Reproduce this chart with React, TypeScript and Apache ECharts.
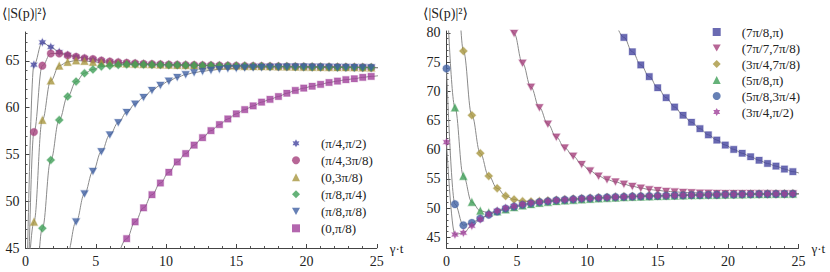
import React, { useEffect, useRef } from "react";
import * as echarts from "echarts";

// sampling times of the markers (γ·t)
const T = [0, 0.6, 1.2, 1.8, 2.4, 3.0, 3.6, 4.2, 4.8, 5.4, 6.0, 6.6, 7.2, 7.8, 8.4, 9.0, 9.6, 10.2, 10.8, 11.4, 12.0, 12.6, 13.2, 13.8, 14.4, 15.0, 15.6, 16.2, 16.8, 17.4, 18.0, 18.6, 19.2, 19.8, 20.4, 21.0, 21.6, 22.2, 22.8, 23.4, 24.0, 24.6, 25.2];

// ---- left panel ----
const L_NAMES = ["(π/4,π/2)", "(π/4,3π/8)", "(0,3π/8)", "(π/8,π/4)", "(π/8,π/8)", "(0,π/8)"];
const L_A = [33, 64.6, 67.0, 66.5, 65.95, 65.65, 65.45, 65.3, 65.15, 65.02, 64.92, 64.85, 64.8, 64.75, 64.7, 64.66, 64.63, 64.6, 64.58, 64.56, 64.54, 64.52, 64.51, 64.5, 64.48, 64.47, 64.46, 64.44, 64.43, 64.42, 64.41, 64.4, 64.39, 64.38, 64.37, 64.36, 64.35, 64.34, 64.33, 64.32, 64.31, 64.3, 64.29];
const L_B = [25, 57.4, 64.5, 65.8, 65.8, 65.6, 65.45, 65.3, 65.2, 65.05, 64.95, 64.87, 64.8, 64.75, 64.7, 64.67, 64.64, 64.62, 64.6, 64.58, 64.56, 64.55, 64.53, 64.52, 64.5, 64.49, 64.47, 64.46, 64.45, 64.43, 64.42, 64.41, 64.4, 64.39, 64.38, 64.37, 64.36, 64.35, 64.34, 64.33, 64.32, 64.31, 64.3];
const L_C = [36, 47.8, 58.7, 62.9, 64.5, 64.9, 65.05, 65.0, 64.9, 64.85, 64.8, 64.75, 64.72, 64.7, 64.67, 64.64, 64.62, 64.6, 64.58, 64.56, 64.55, 64.53, 64.52, 64.5, 64.49, 64.48, 64.46, 64.45, 64.44, 64.43, 64.42, 64.4, 64.39, 64.38, 64.37, 64.36, 64.35, 64.34, 64.33, 64.32, 64.31, 64.3, 64.29];
const L_D = [22, 38, 47.1, 54.4, 58.7, 61.2, 62.8, 63.7, 64.1, 64.4, 64.5, 64.58, 64.62, 64.63, 64.62, 64.61, 64.6, 64.58, 64.57, 64.55, 64.54, 64.52, 64.51, 64.5, 64.48, 64.47, 64.46, 64.45, 64.43, 64.42, 64.41, 64.4, 64.39, 64.38, 64.37, 64.36, 64.35, 64.34, 64.33, 64.32, 64.31, 64.3, 64.29];
const L_E = [null, null, null, null, 40.5, 44.5, 47.8, 50.8, 53.2, 55.3, 57.1, 58.4, 59.5, 60.4, 61.1, 61.85, 62.4, 62.85, 63.25, 63.55, 63.75, 63.9, 64.0, 64.1, 64.17, 64.22, 64.27, 64.3, 64.32, 64.34, 64.35, 64.36, 64.36, 64.36, 64.35, 64.35, 64.34, 64.33, 64.32, 64.31, 64.3, 64.29, 64.28];
const L_F = [null, null, null, null, null, null, null, null, null, null, null, 44.2, 46.0, 47.8, 49.3, 50.7, 51.95, 53.1, 54.2, 55.1, 56.0, 56.8, 57.55, 58.2, 58.8, 59.35, 59.8, 60.2, 60.6, 60.9, 61.2, 61.55, 61.85, 62.1, 62.3, 62.5, 62.7, 62.85, 63.0, 63.1, 63.25, 63.35, 63.45];
const L_Y_TICKS = [45, 50, 55, 60, 65];
const L_Y_MINOR = [46, 47, 48, 49, 51, 52, 53, 54, 56, 57, 58, 59, 61, 62, 63, 64, 66, 67, 68];

// ---- right panel ----
const R_NAMES = ["(7π/8,π)", "(7π/7,7π/8)", "(3π/4,7π/8)", "(5π/8,π)", "(5π/8,3π/4)", "(3π/4,π/2)"];
const R_A = [null, null, null, null, null, null, null, null, null, null, null, null, null, null, null, null, null, null, null, null, 81.8, 79.2, 76.75, 74.5, 72.5, 70.6, 68.9, 67.3, 65.9, 64.7, 63.6, 62.55, 61.65, 60.8, 60.05, 59.4, 58.8, 58.2, 57.65, 57.2, 56.7, 56.25, 55.85];
const R_B = [null, null, null, null, null, null, null, 85.5, 79.9, 74.8, 70.7, 67.2, 64.4, 62.15, 60.3, 58.9, 57.5, 56.4, 55.5, 54.9, 54.5, 54.1, 53.75, 53.45, 53.2, 53.05, 52.9, 52.8, 52.72, 52.65, 52.6, 52.57, 52.55, 52.54, 52.53, 52.52, 52.52, 52.51, 52.51, 52.5, 52.5, 52.5, 52.5];
const R_C = [null, 105, 76.9, 65.9, 59.4, 55.5, 53.4, 52.1, 51.5, 51.2, 51.15, 51.2, 51.3, 51.4, 51.5, 51.6, 51.68, 51.75, 51.82, 51.88, 51.94, 52.0, 52.04, 52.08, 52.12, 52.15, 52.18, 52.2, 52.23, 52.26, 52.28, 52.3, 52.32, 52.34, 52.36, 52.38, 52.4, 52.42, 52.43, 52.45, 52.46, 52.48, 52.5];
const R_D = [88, 67.2, 55.5, 51.05, 49.55, 49.25, 49.45, 49.8, 50.15, 50.45, 50.7, 50.9, 51.05, 51.2, 51.3, 51.4, 51.5, 51.58, 51.66, 51.73, 51.8, 51.86, 51.92, 51.97, 52.02, 52.06, 52.1, 52.14, 52.17, 52.2, 52.23, 52.26, 52.28, 52.3, 52.33, 52.35, 52.37, 52.39, 52.41, 52.43, 52.45, 52.46, 52.48];
const R_E = [73.9, 50.7, 47.1, 47.5, 48.25, 48.9, 49.45, 49.95, 50.3, 50.6, 50.85, 51.05, 51.2, 51.35, 51.45, 51.55, 51.65, 51.72, 51.8, 51.86, 51.92, 51.97, 52.02, 52.06, 52.1, 52.14, 52.17, 52.2, 52.23, 52.26, 52.28, 52.3, 52.32, 52.34, 52.36, 52.38, 52.4, 52.42, 52.44, 52.45, 52.47, 52.48, 52.5];
const R_F = [61.3, 45.5, 45.8, 47.0, 48.1, 48.95, 49.55, 50.05, 50.35, 50.65, 50.9, 51.05, 51.2, 51.35, 51.45, 51.55, 51.63, 51.7, 51.78, 51.84, 51.9, 51.95, 52.0, 52.04, 52.08, 52.12, 52.15, 52.18, 52.21, 52.24, 52.26, 52.28, 52.3, 52.32, 52.34, 52.36, 52.38, 52.4, 52.42, 52.43, 52.45, 52.46, 52.48];
const R_Y_TICKS = [45, 50, 55, 60, 65, 70, 75, 80];
const R_Y_MINOR = [44, 46, 47, 48, 49, 51, 52, 53, 54, 56, 57, 58, 59, 61, 62, 63, 64, 66, 67, 68, 69, 71, 72, 73, 74, 76, 77, 78, 79];

// ---- styles ----
const FONT = "'Liberation Serif', 'Times New Roman', 'DejaVu Serif', serif";
const STAR = "path://M100,0 L128,52 L186.6,50 L156,100 L186.6,150 L128,148 L100,200 L72,148 L13.4,150 L44,100 L13.4,50 L72,52 Z";
const TRI_DOWN = "path://M0,0 L100,0 L50,90 Z";
const C_DARKBLUE = "#45459f";
const C_MAGENTA = "#a5407c";
const C_OLIVE = "#a8963f";
const C_GREEN = "#3f9f58";
const C_BLUE = "#4060a3";
const C_PURPLE = "#a0409a";

const L_SYMBOLS = [STAR, "circle", "triangle", "diamond", TRI_DOWN, "rect"];
const L_SIZES = [7.5, 7.5, 7.5, 8, 7.5, 6.5];
const L_COLORS = [C_DARKBLUE, C_MAGENTA, C_OLIVE, C_GREEN, C_BLUE, C_PURPLE];
const R_SYMBOLS = ["rect", TRI_DOWN, "diamond", "triangle", "circle", STAR];
const R_SIZES = [6.5, 7.5, 8, 7.5, 7.5, 7.5];
const R_COLORS = [C_DARKBLUE, C_MAGENTA, C_OLIVE, C_GREEN, C_BLUE, C_PURPLE];

const L_DATA = [L_A, L_B, L_C, L_D, L_E, L_F];
const R_DATA = [R_A, R_B, R_C, R_D, R_E, R_F];

function pairs(vals: (number | null)[]) {
  const out: number[][] = [];
  vals.forEach((v, i) => {
    if (v !== null && v !== undefined) out.push([T[i], v]);
  });
  return out;
}

function xAxisFor(gridIndex: number) {
  return {
    gridIndex,
    type: "value",
    min: 0,
    max: 25,
    interval: 5,
    axisLine: { show: true, onZero: false, lineStyle: { color: "#444", width: 1 } },
    axisTick: { show: true, inside: true, length: 4, lineStyle: { color: "#444" } },
    minorTick: { show: true, splitNumber: 5, length: 2, lineStyle: { color: "#555" } },
    axisLabel: { fontFamily: FONT, fontSize: 14, color: "#222", margin: 6 },
    splitLine: { show: false },
    name: "γ·t",
    nameLocation: "end",
    nameGap: 13,
    nameTextStyle: { fontFamily: FONT, fontSize: 13, color: "#222", verticalAlign: "middle" },
  };
}

function yAxesFor(gridIndex: number, min: number, max: number, ticks: number[], minor: number[]) {
  return [
    {
      gridIndex,
      type: "value",
      position: "left",
      min,
      max,
      axisLine: { show: true, onZero: false, lineStyle: { color: "#444", width: 1 } },
      axisTick: { show: true, inside: true, length: 4, customValues: ticks, lineStyle: { color: "#444" } },
      axisLabel: { customValues: ticks, fontFamily: FONT, fontSize: 14, color: "#222", margin: 6 },
      splitLine: { show: false },
    },
    {
      gridIndex,
      type: "value",
      position: "left",
      min,
      max,
      axisLine: { show: false },
      axisTick: { show: true, inside: true, length: 2, customValues: minor, lineStyle: { color: "#555" } },
      axisLabel: { show: false },
      splitLine: { show: false },
    },
  ];
}

function seriesFor(names: string[], data: (number | null)[][], symbols: string[], sizes: number[], colors: string[], axisIdx: number, yIdx: number) {
  const out: any[] = [];
  names.forEach((n, i) => {
    out.push({
      type: "line",
      name: n + " fit",
      xAxisIndex: axisIdx,
      yAxisIndex: yIdx,
      data: pairs(data[i]),
      smooth: 0.4,
      smoothMonotone: "x",
      symbol: "none",
      showSymbol: false,
      clip: true,
      silent: true,
      z: 1,
      lineStyle: { color: "#8a8a8a", width: 1 },
    });
  });
  names.forEach((n, i) => {
    out.push({
      type: "scatter",
      name: n,
      xAxisIndex: axisIdx,
      yAxisIndex: yIdx,
      data: pairs(data[i]),
      symbol: symbols[i],
      symbolSize: sizes[i],
      symbolKeepAspect: true,
      clip: true,
      z: 3,
      itemStyle: { color: colors[i], borderColor: colors[i] + "50", borderWidth: 1.2 },
    });
  });
  return out;
}

function legendFor(names: string[], symbols: string[], colors: string[], left: number, top: number, lineHeight: number) {
  return {
    data: names.map((n, i) => ({ name: n, icon: symbols[i], itemStyle: { color: colors[i], borderWidth: 0 } })),
    orient: "vertical",
    left,
    top,
    itemWidth: 8,
    itemHeight: 8,
    itemGap: 0,
    selectedMode: false,
    padding: 0,
    textStyle: { fontFamily: FONT, fontSize: 13, color: "#222", lineHeight, padding: [0, 0, 0, 16] },
  };
}

export default function App() {
  const ref = useRef<HTMLDivElement>(null);
  useEffect(() => {
    if (!ref.current) return;
    const chart = echarts.init(ref.current, null, { renderer: "svg" });
    const option: any = {
      animation: false,
      backgroundColor: "#ffffff",
      grid: [
        { left: 25.5, top: 32, width: 351.3, height: 216 },
        { left: 446.5, top: 31, width: 352, height: 217 },
      ],
      xAxis: [xAxisFor(0), xAxisFor(1)],
      yAxis: [
        ...yAxesFor(0, 45, 68.1, L_Y_TICKS, L_Y_MINOR),
        ...yAxesFor(1, 43.2, 80.3, R_Y_TICKS, R_Y_MINOR),
      ],
      legend: [
        legendFor(L_NAMES, L_SYMBOLS, L_COLORS, 292, 134.8, 17),
        legendFor(R_NAMES, R_SYMBOLS, R_COLORS, 712.7, 24, 16),
      ],
      graphic: [
        { type: "text", left: 2, top: 6, style: { text: "⟨|S(p)|²⟩", fontFamily: FONT, fontSize: 14, fill: "#222" } },
        { type: "text", left: 423, top: 6, style: { text: "⟨|S(p)|²⟩", fontFamily: FONT, fontSize: 14, fill: "#222" } },
      ],
      series: [
        ...seriesFor(L_NAMES, L_DATA, L_SYMBOLS, L_SIZES, L_COLORS, 0, 0),
        ...seriesFor(R_NAMES, R_DATA, R_SYMBOLS, R_SIZES, R_COLORS, 1, 2),
      ],
    };
    chart.setOption(option);
    return () => chart.dispose();
  }, []);
  return (
    <div
      ref={ref}
      style={{ position: "absolute", left: 0, top: 0, width: 830, height: 272, background: "#fff" }}
    />
  );
}
